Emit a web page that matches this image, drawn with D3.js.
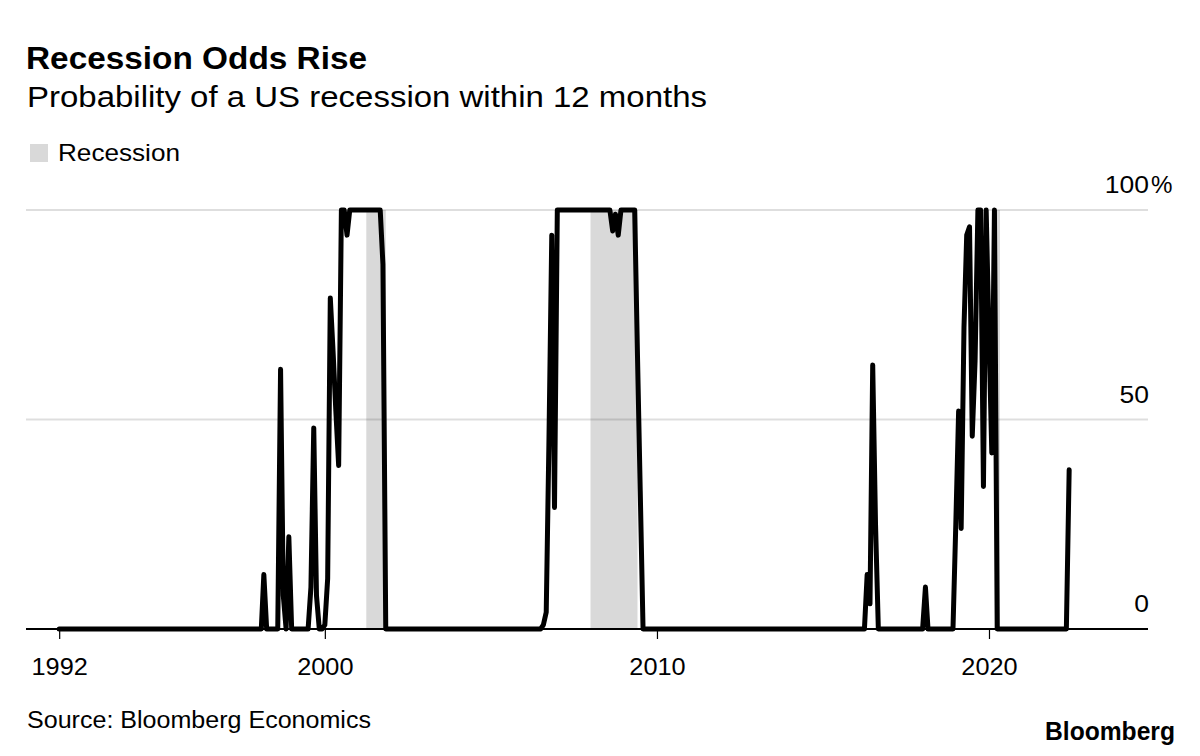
<!DOCTYPE html>
<html><head><meta charset="utf-8">
<script src="https://cdn.jsdelivr.net/npm/d3@7"></script>
<style>
body{margin:0;background:#fff}
svg{display:block}
text{font-family:"Liberation Sans",Arial,Helvetica,sans-serif;fill:#000}
</style>
</head><body>
<svg id="chart" width="1200" height="756"></svg>
<script>
// ---- data (monthly readings; months not listed lie on straight segments, mostly 0) ----
const dates = [
  "1992-01","1998-02","1998-03","1998-04","1998-08","1998-09","1998-10","1998-11","1998-12","1999-01",
  "1999-07","1999-08","1999-09","1999-10","1999-11","1999-12",
  "2000-01","2000-02","2000-03","2000-04","2000-05","2000-06","2000-07","2000-08","2000-09","2000-10",
  "2001-09","2001-10","2001-11",
  "2006-07","2006-08","2006-09","2006-10","2006-11","2006-12","2007-01",
  "2008-08","2008-09","2008-10","2008-11","2008-12","2009-05","2009-06","2009-07","2009-08",
  "2016-04","2016-05","2016-06","2016-07","2016-08","2016-09",
  "2018-01","2018-02","2018-03",
  "2018-12","2019-01","2019-02","2019-03","2019-04","2019-05","2019-06","2019-07","2019-08",
  "2019-09","2019-10","2019-11","2019-12","2020-01","2020-02","2020-03","2020-04",
  "2022-05","2022-06"
];
const values = [
  0,0,13,0,0,62,8,0,22,0,
  0,10,48,8,0,0,
  1,12,79,66,52,39,100,100,94,100,
  100,87,0,
  0,1,4,45,94,29,100,
  100,95,99,94,100,100,65,33,0,
  0,13,6,63,25,0,
  0,10,0,
  0,25,52,24,72,94,96,46,64,
  100,100,34,100,70,42,100,0,
  0,38
];
const recessionStarts = ["2001-04","2008-01","2020-03"];
const recessionEnds   = ["2001-11","2009-06","2020-05"];
const xTickYears = [1992, 2000, 2010, 2020];
const yTickValues = [0, 50, 100];
const yTickLabels = ["0", "50", "100"];
const titleText = "Recession Odds Rise";
const subtitleText = "Probability of a US recession within 12 months";
const legendLabel = "Recession";
const sourceText = "Source: Bloomberg Economics";
const logoText = "Bloomberg";

// ---- layout ----
const svg = d3.select("#chart");
const parse = d3.timeParse("%Y-%m");
const plotLeft = 26, plotRight = 1148, plotTop = 210, plotBottom = 629;

const x = d3.scaleTime()
  .domain([new Date(1991, 0, 1), new Date(2024, 9, 15)])
  .range([plotLeft, plotRight]);
const y = d3.scaleLinear().domain([0, 100]).range([plotBottom, plotTop]);

function widen(sel, factor) {
  sel.each(function () {
    const w = this.getComputedTextLength();
    d3.select(this).attr("textLength", w * factor).attr("lengthAdjust", "spacingAndGlyphs");
  });
}
function fitWidth(sel, width) {
  sel.attr("textLength", width).attr("lengthAdjust", "spacingAndGlyphs");
}

// header
svg.append("text").attr("x", 26).attr("y", 69)
  .style("font-size", "32px").style("font-weight", "bold")
  .text(titleText).call(fitWidth, 341);
svg.append("text").attr("x", 27).attr("y", 107)
  .style("font-size", "29px")
  .text(subtitleText).call(fitWidth, 680);

// legend
svg.append("rect").attr("x", 30).attr("y", 144).attr("width", 18).attr("height", 18).attr("fill", "#d9d9d9");
svg.append("text").attr("x", 58).attr("y", 161)
  .style("font-size", "24px").text(legendLabel).call(fitWidth, 122);

// recession shading
const rec = recessionStarts.map((s, i) => ({ s: parse(s), e: parse(recessionEnds[i]) }));
svg.append("g").selectAll("rect").data(rec).join("rect")
  .attr("x", d => x(d.s))
  .attr("width", d => x(d.e) - x(d.s))
  .attr("y", plotTop)
  .attr("height", plotBottom - plotTop)
  .attr("fill", "#d9d9d9");

// gridlines
svg.append("g").selectAll("line").data(yTickValues.filter(v => v > 0)).join("line")
  .attr("x1", plotLeft).attr("x2", plotRight)
  .attr("y1", d => y(d)).attr("y2", d => y(d))
  .attr("stroke", "#000").attr("stroke-opacity", 0.13).attr("stroke-width", 2);

// y labels (right side, above gridlines)
const yl = svg.append("g").selectAll("text").data(yTickValues).join("text")
  .attr("x", 1149).attr("y", d => y(d) - 17)
  .attr("text-anchor", "end")
  .style("font-size", "23px")
  .text((d, i) => yTickLabels[i]);
widen(yl, 1.15);
svg.append("text").attr("x", 1151).attr("y", y(100) - 17)
  .style("font-size", "23px").text("%").call(widen, 1.05);

// x axis
const xAxis = d3.axisBottom(x)
  .tickValues(xTickYears.map(yr => new Date(yr, 0, 1)))
  .tickFormat(d3.timeFormat("%Y"))
  .tickSize(10).tickPadding(0);
const gx = svg.append("g").attr("transform", `translate(0,${plotBottom})`).call(xAxis);
gx.select(".domain").remove();
gx.selectAll(".tick line").attr("stroke", "#000").attr("stroke-width", 1.2);
gx.selectAll(".tick text").attr("y", 46).attr("dy", null)
  .style("font-size", "23px").style("font-family", '"Liberation Sans",Arial,sans-serif')
  .attr("fill", "#000");
widen(gx.selectAll(".tick text"), 1.1);

// baseline
svg.append("line").attr("x1", plotLeft).attr("x2", plotRight).attr("y1", plotBottom).attr("y2", plotBottom)
  .attr("stroke", "#000").attr("stroke-width", 2);

// series line
const series = dates.map((d, i) => ({ date: parse(d), value: values[i] }));
svg.append("path").datum(series)
  .attr("fill", "none").attr("stroke", "#000").attr("stroke-width", 5)
  .attr("stroke-linejoin", "round").attr("stroke-linecap", "round")
  .attr("d", d3.line().x(d => x(d.date)).y(d => y(d.value)));

// footer
svg.append("text").attr("x", 27).attr("y", 728)
  .style("font-size", "23px").text(sourceText).call(fitWidth, 344);
svg.append("text").attr("x", 1175).attr("y", 740).attr("text-anchor", "end")
  .style("font-size", "25px").style("font-weight", "bold")
  .text(logoText).call(fitWidth, 130);
</script>
</body></html>
